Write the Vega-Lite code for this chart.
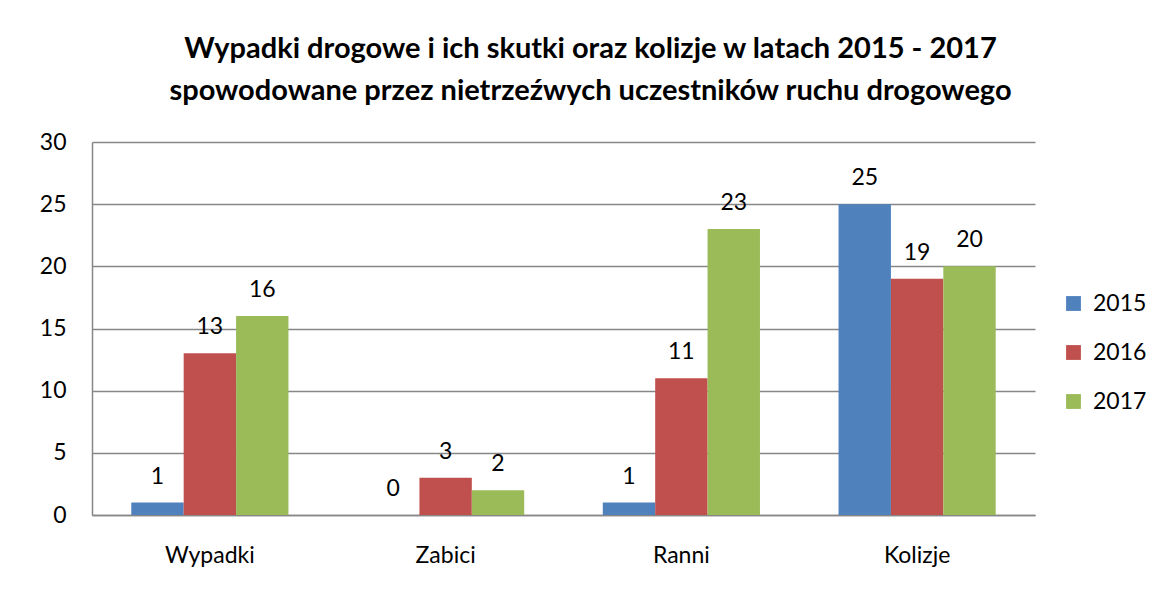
{
  "$schema": "https://vega.github.io/schema/vega-lite/v6.json",
  "autosize": "none",
  "width": 943,
  "height": 373,
  "padding": {"left": 92, "top": 142, "right": 131, "bottom": 80},
  "background": "white",
  "title": {
    "text": ["Wypadki drogowe i ich skutki oraz kolizje w latach 2015 - 2017", "spowodowane przez nietrzeźwych uczestników ruchu drogowego"],
    "font": "Lato",
    "fontSize": 29,
    "fontWeight": "bold",
    "color": "black",
    "anchor": "middle",
    "dx": 27,
    "lineHeight": 42,
    "offset": 25
  },
  "data": {
    "values": [
      {"kat": "Wypadki", "rok": "2015", "v": 1},
      {"kat": "Wypadki", "rok": "2016", "v": 13},
      {"kat": "Wypadki", "rok": "2017", "v": 16},
      {"kat": "Zabici", "rok": "2015", "v": 0},
      {"kat": "Zabici", "rok": "2016", "v": 3},
      {"kat": "Zabici", "rok": "2017", "v": 2},
      {"kat": "Ranni", "rok": "2015", "v": 1},
      {"kat": "Ranni", "rok": "2016", "v": 11},
      {"kat": "Ranni", "rok": "2017", "v": 23},
      {"kat": "Kolizje", "rok": "2015", "v": 25},
      {"kat": "Kolizje", "rok": "2016", "v": 19},
      {"kat": "Kolizje", "rok": "2017", "v": 20}
    ]
  },
  "encoding": {
    "x": {
      "field": "kat", "type": "nominal", "sort": ["Wypadki", "Zabici", "Ranni", "Kolizje"],
      "scale": {"paddingInner": 0, "paddingOuter": 0},
      "axis": {"title": null, "labelAngle": 0, "labelFont": "Lato", "labelFontSize": 23, "labelColor": "black", "labelPadding": 29, "ticks": false, "domainColor": "#878787", "domainWidth": 1.5}
    },
    "xOffset": {"field": "rok", "type": "nominal", "scale": {"paddingInner": 0, "paddingOuter": 0.75}},
    "y": {
      "field": "v", "type": "quantitative",
      "scale": {"domain": [0, 30]},
      "axis": {"title": null, "values": [0, 5, 10, 15, 20, 25, 30], "labelFont": "Lato", "labelFontSize": 23, "labelColor": "black", "labelPadding": 26, "ticks": false, "domain": true, "domainColor": "#878787", "domainWidth": 1.5, "gridColor": "#878787", "gridWidth": 1.5}
    }
  },
  "layer": [
    {
      "mark": {"type": "bar"},
      "encoding": {
        "color": {
          "field": "rok", "type": "nominal",
          "scale": {"domain": ["2015", "2016", "2017"], "range": ["#4F81BD", "#C0504D", "#9BBB59"]},
          "legend": {"title": null, "orient": "none", "legendX": 970, "legendY": 150, "symbolType": "square", "symbolSize": 220, "labelFont": "Lato", "labelFontSize": 23, "labelColor": "black", "rowPadding": 25, "labelOffset": 8}
        }
      }
    },
    {
      "mark": {"type": "text", "dy": -26, "font": "Lato", "fontSize": 23, "color": "black"},
      "encoding": {"text": {"field": "v", "type": "quantitative"}}
    }
  ],
  "config": {"view": {"stroke": null}}
}
